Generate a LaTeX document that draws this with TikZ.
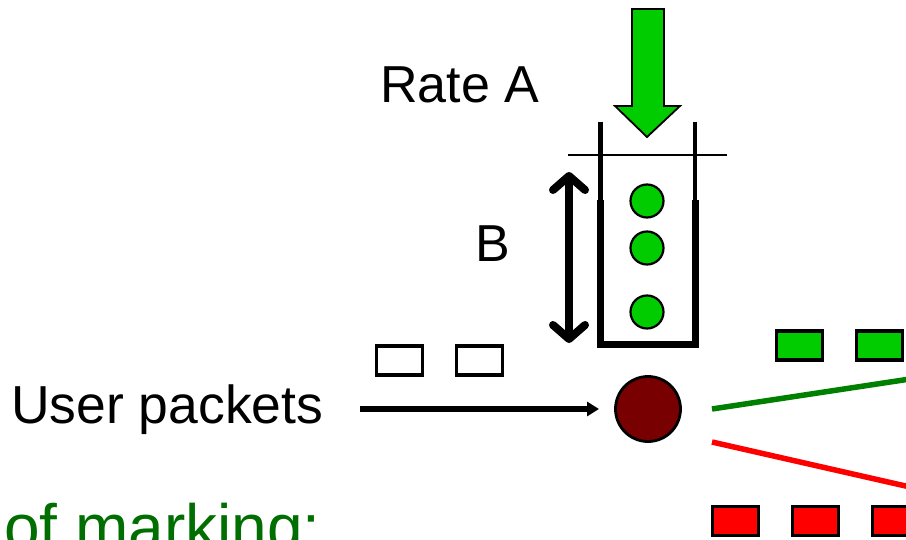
\documentclass[tikz,border=0pt]{standalone}
\usepackage{fontspec}
\setmainfont{Liberation Sans}
\usetikzlibrary{arrows.meta}
\definecolor{ballgreen}{HTML}{00CC00}
\definecolor{linegreen}{HTML}{008000}
\definecolor{textgreen}{HTML}{006E00}
\definecolor{brown}{HTML}{780000}
\definecolor{pktred}{HTML}{FF0000}
\tikzset{
  lbl/.style={font=\fontsize{52}{60}\selectfont, inner sep=0pt, anchor=base west},
  token/.style={circle, draw=black, line width=2.2pt, fill=ballgreen, minimum size=33pt, inner sep=0pt},
  pkt/.style={rectangle, draw=black, line width=3.8pt, minimum width=46pt, minimum height=29pt, inner sep=0pt},
  wall/.style={line width=7pt, line cap=butt},
  thinwall/.style={line width=4.5pt, line cap=butt},
  barbtip/.tip={Straight Barb[length=14pt,width=32pt,line cap=round,line join=round]},
}
\begin{document}
\begin{tikzpicture}[x=1pt,y=-1pt]
\useasboundingbox (0,0) rectangle (906,540);
\clip (0,0) rectangle (906,540);
% green rate arrow
\path[fill=ballgreen, draw=black, line width=1.8pt]
  (632,9) -- (664,9) -- (664,106) -- (680,106) -- (647,137) -- (615,106) -- (632,106) -- cycle;
% bucket
\draw[thinwall] (600.5,122) -- (600.5,202);
\draw[thinwall] (695,122) -- (695,202);
\draw[wall] (600.5,200) -- (600.5,345) -- (695,345) -- (695,200);
\draw[line width=2.2pt] (568,155) -- (727,155);
% tokens
\node[token] (t1) at (647,201) {};
\node[token] (t2) at (647,248) {};
\node[token] (t3) at (647,312) {};
% depth arrow
\coordinate (btop) at (569,172);
\coordinate (bbot) at (569,343);
\draw[line width=8pt, barbtip-barbtip] (btop) -- (bbot);
% labels
\node[lbl] (rate) at (380,103) {Rate A};
\node[lbl] (b) at (475,262) {B};
\node[lbl, font=\fontsize{53.5}{60}\selectfont] (user) at (11,423) {User packets};
\node[lbl, font=\fontsize{64}{70}\selectfont, text=textgreen] (purpose) at (4,549) {of marking:};
% white packets
\node[pkt] (w1) at (399.5,360.5) {};
\node[pkt] (w2) at (479.5,360.5) {};
% marker
\node[circle, draw=black, line width=2.8pt, fill=brown, minimum size=65pt, inner sep=0pt] (m) at (648,409) {};
\coordinate (ustart) at (360,409);
\draw[line width=5.5pt, -{Triangle[length=12pt,width=14pt]}] (ustart) -- (599,409);
% output lines
\coordinate (gend) at (910,379);
\coordinate (rend) at (910,487);
\draw[linegreen, line width=5.5pt] (712,409) -- (gend);
\draw[pktred, line width=5.5pt] (712,442) -- (rend);
% green packets
\node[pkt, fill=ballgreen] (g1) at (799.5,345.5) {};
\node[pkt, fill=ballgreen] (g2) at (879.5,345.5) {};
% red packets
\node[pkt, fill=pktred] (r1) at (735.5,521) {};
\node[pkt, fill=pktred] (r2) at (815.5,521) {};
\node[pkt, fill=pktred] (r3) at (895.5,521) {};
\end{tikzpicture}
\end{document}
